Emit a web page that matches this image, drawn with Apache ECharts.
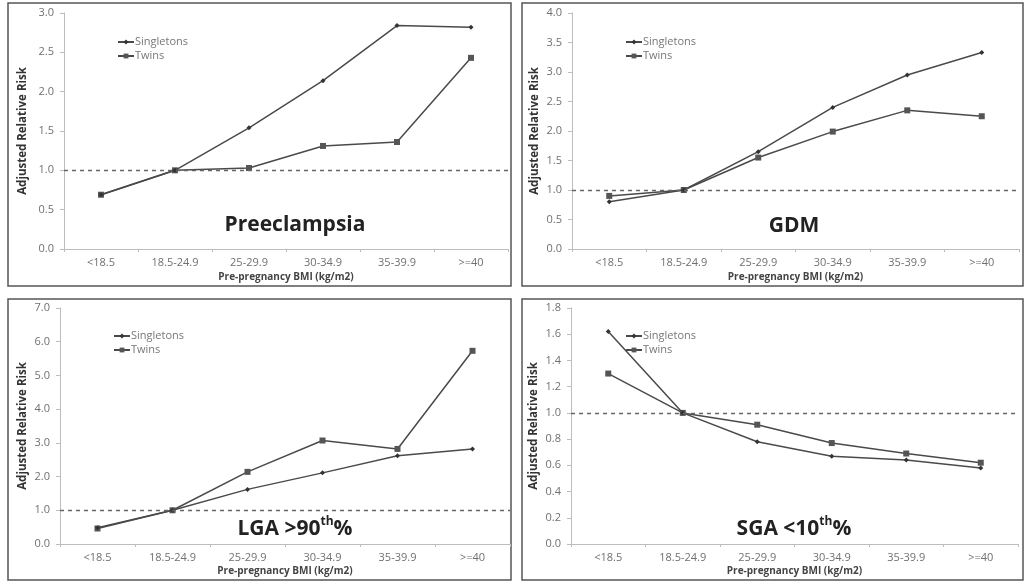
<!DOCTYPE html>
<html>
<head>
<meta charset="utf-8">
<script src="https://cdn.jsdelivr.net/npm/echarts@6/dist/echarts.min.js"></script>
<style>
  html, body { margin: 0; padding: 0; background: #fff; }
  #chart { width: 1024px; height: 581px; }
</style>
</head>
<body>
<div id="chart"></div>
<script>
// BMI categories shared by all four panels
var categories = ['<18.5', '18.5-24.9', '25-29.9', '30-34.9', '35-39.9', '>=40'];

// Adjusted relative risk per BMI class
var preSingle = [0.69, 1.00, 1.54, 2.14, 2.84, 2.82];
var preTwins  = [0.69, 1.00, 1.03, 1.31, 1.36, 2.43];
var gdmSingle = [0.80, 1.00, 1.65, 2.40, 2.95, 3.33];
var gdmTwins  = [0.90, 1.00, 1.55, 1.99, 2.35, 2.25];
var lgaSingle = [0.48, 1.00, 1.62, 2.11, 2.62, 2.82];
var lgaTwins  = [0.46, 1.00, 2.14, 3.07, 2.82, 5.73];
var sgaSingle = [1.62, 1.00, 0.78, 0.67, 0.64, 0.58];
var sgaTwins  = [1.30, 1.00, 0.91, 0.77, 0.69, 0.62];

// Panel titles and y-axis ranges
var panelTitles = ['Preeclampsia', 'GDM', 'LGA >90{sup|th}%', 'SGA <10{sup|th}%'];
var yMax = [3.0, 4.0, 7.0, 1.8];
var yStep = [0.5, 0.5, 1.0, 0.2];
var seriesNames = ['Singletons', 'Twins'];
var referenceLevel = 1.0;

var panelData = [
  [preSingle, preTwins],
  [gdmSingle, gdmTwins],
  [lgaSingle, lgaTwins],
  [sgaSingle, sgaTwins]
];

// layout of each panel (plot area, frame, title and legend anchors)
var layout = [
  { grid: { left: 64,  top: 13,  width: 444, height: 236 }, box: [8, 3, 503, 283],   title: [290, 210], legend: [117, 36], yGap: 35 },
  { grid: { left: 572, top: 13,  width: 447, height: 236 }, box: [522, 3, 501, 283], title: [789, 211], legend: [625, 36], yGap: 31 },
  { grid: { left: 60,  top: 308, width: 450, height: 236 }, box: [8, 299, 503, 281], title: [290, 511], legend: [113, 330], yGap: 31 },
  { grid: { left: 571, top: 308, width: 447, height: 236 }, box: [522, 299, 501, 281], title: [789, 511], legend: [625, 330], yGap: 31 }
];

var labelFont = 'Open Sans';
var lineColor = '#4a4a4a';

var grids = [], xAxes = [], yAxes = [], series = [], titles = [], legends = [], frames = [];

layout.forEach(function (p, i) {
  grids.push(p.grid);

  xAxes.push({
    type: 'category',
    gridIndex: i,
    data: categories,
    boundaryGap: true,
    name: 'Pre-pregnancy BMI (kg/m2)',
    nameLocation: 'middle',
    nameGap: i < 2 ? 23 : 22,
    nameTextStyle: { fontFamily: labelFont, fontSize: 10, fontWeight: 'bold', color: '#444' },
    axisLine: { lineStyle: { color: '#bdbdbd', width: 1 } },
    axisTick: { show: true, length: 3, lineStyle: { color: '#bdbdbd' } },
    axisLabel: { fontFamily: labelFont, fontSize: 11, color: '#707070', margin: 8 },
    splitLine: { show: false }
  });

  yAxes.push({
    type: 'value',
    gridIndex: i,
    min: 0,
    max: yMax[i],
    interval: yStep[i],
    name: 'Adjusted Relative Risk',
    nameLocation: 'middle',
    nameGap: p.yGap,
    nameRotate: 90,
    nameTextStyle: { fontFamily: labelFont, fontSize: 11.5, fontWeight: 'bold', color: '#333' },
    axisLine: { show: true, lineStyle: { color: '#bdbdbd', width: 1 } },
    axisTick: { show: true, length: 4, lineStyle: { color: '#bdbdbd' } },
    axisLabel: {
      fontFamily: labelFont, fontSize: 11, color: '#707070', margin: 10,
      formatter: function (v) { return v.toFixed(1); }
    },
    splitLine: { show: false }
  });

  var pair = panelData[i];
  series.push({
    name: seriesNames[0],
    type: 'line',
    xAxisIndex: i,
    yAxisIndex: i,
    data: pair[0],
    symbol: 'diamond',
    symbolSize: 5,
    lineStyle: { color: lineColor, width: 1.5 },
    itemStyle: { color: '#333' },
    z: 3,
    markLine: {
      silent: true,
      symbol: ['none', 'none'],
      label: { show: false },
      lineStyle: { color: '#666', type: [4, 4], width: 1.3 },
      data: [{ yAxis: referenceLevel }]
    }
  });
  series.push({
    name: seriesNames[1],
    type: 'line',
    xAxisIndex: i,
    yAxisIndex: i,
    data: pair[1],
    symbol: 'rect',
    symbolSize: 6,
    lineStyle: { color: lineColor, width: 1.5 },
    itemStyle: { color: '#555' },
    z: 2
  });

  titles.push({
    text: panelTitles[i],
    left: p.title[0],
    top: p.title[1],
    textAlign: 'center',
    textStyle: {
      fontFamily: labelFont,
      fontSize: 21,
      fontWeight: 'bold',
      color: '#222',
      rich: {
        sup: { fontFamily: labelFont, fontSize: 12, fontWeight: 'bold', color: '#222', verticalAlign: 'top', lineHeight: 26 }
      }
    }
  });

  legends.push({
    data: seriesNames,
    orient: 'vertical',
    left: p.legend[0],
    top: p.legend[1],
    padding: 0,
    itemWidth: 16,
    itemHeight: 6,
    itemGap: 2,
    selectedMode: false,
    textStyle: { fontFamily: labelFont, fontSize: 11, color: '#777', padding: [0, 0, 0, -4], lineHeight: 12 }
  });

  frames.push({
    type: 'rect',
    shape: { x: p.box[0], y: p.box[1], width: p.box[2], height: p.box[3] },
    style: { fill: 'none', stroke: '#555', lineWidth: 1.5 },
    silent: true
  });
});

var chart = echarts.init(document.getElementById('chart'), null, { renderer: 'canvas' });
chart.setOption({
  backgroundColor: '#ffffff',
  animation: false,
  title: titles,
  legend: legends,
  grid: grids,
  xAxis: xAxes,
  yAxis: yAxes,
  series: series,
  graphic: frames
});
</script>
</body>
</html>
